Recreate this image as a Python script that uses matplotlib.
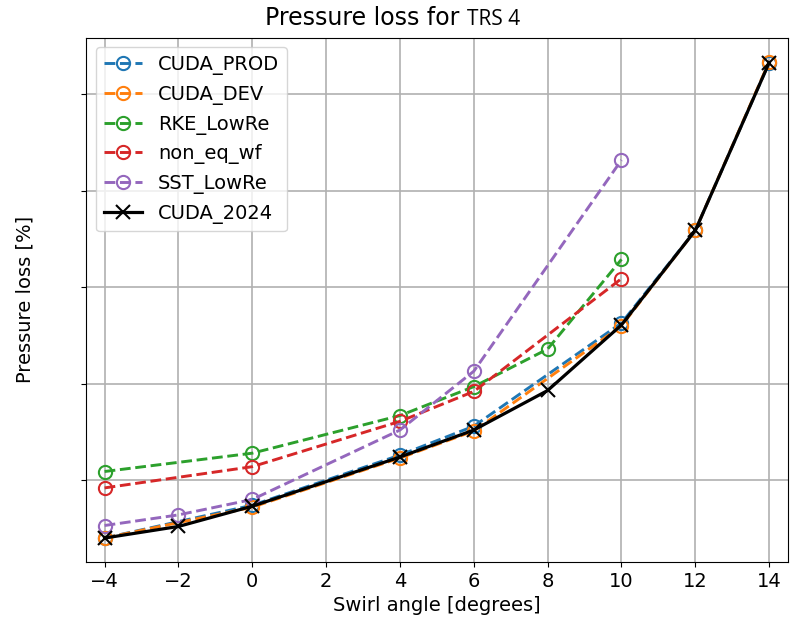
import matplotlib
matplotlib.use('Agg')
import matplotlib.pyplot as plt

# swirl angles per case
x_prod = [-4, 0, 4, 6, 10, 12, 14]
x_dev = [-4, 0, 4, 6, 10, 12, 14]
x_rke = [-4, 0, 4, 6, 8, 10]
x_neq = [-4, 0, 4, 6, 10]
x_sst = [-4, -2, 0, 4, 6, 10]
x_2024 = [-4, -2, 0, 4, 6, 8, 10, 12, 14]

# pressure loss (axis values hidden in the original)
y_prod = [0.40, 0.74, 1.26, 1.56, 2.63, 3.59, 5.33]
y_dev = [0.40, 0.72, 1.23, 1.51, 2.60, 3.59, 5.34]
y_rke = [1.09, 1.28, 1.67, 1.97, 2.36, 3.29]
y_neq = [0.92, 1.14, 1.61, 1.92, 3.09]
y_sst = [0.53, 0.64, 0.80, 1.52, 2.13, 4.32]
y_2024 = [0.40, 0.52, 0.73, 1.24, 1.52, 1.93, 2.61, 3.59, 5.33]

plt.rcParams['font.size'] = 14

fig = plt.figure(figsize=(7.9, 6.26), dpi=100)
ax = fig.add_axes([0.109, 0.102, 0.888, 0.838])

kw = dict(ls='--', marker='o', ms=9.5, mfc='none', mew=1.5, lw=2.1)
ax.plot(x_prod, y_prod, color='tab:blue', label='CUDA_PROD', **kw)
ax.plot(x_dev, y_dev, color='tab:orange', label='CUDA_DEV', **kw)
ax.plot(x_rke, y_rke, color='tab:green', label='RKE_LowRe', **kw)
ax.plot(x_neq, y_neq, color='tab:red', label='non_eq_wf', **kw)
ax.plot(x_sst, y_sst, color='tab:purple', label='SST_LowRe', **kw)
ax.plot(x_2024, y_2024, color='black', ls='-', marker='x', ms=10, mew=1.5, lw=2.3, label='CUDA_2024')

ax.set_xlim(-4.5, 14.5)
ax.set_ylim(0.15, 5.59)
ax.set_xticks(range(-4, 15, 2))
ax.set_yticks([1, 2, 3, 4, 5])
ax.set_yticklabels([])
ax.grid(True, color='#b0b0b0', lw=1.2)
ax.set_xlabel('Swirl angle [degrees]')
ax.set_ylabel('Pressure loss [%]')
ax.yaxis.set_label_coords(-0.074, 0.5)
ax.legend(loc='upper left', fontsize=14)

t1 = fig.text(0.335, 0.960, 'Pressure loss for ', fontsize=17, ha='left', va='baseline')
fig.canvas.draw()
bb = t1.get_window_extent()
fig.text(bb.x1 / fig.bbox.width, 0.960, 'TRS 4', fontsize=15, family='Open Sans',
         ha='left', va='baseline')

plt.savefig('out.png')
